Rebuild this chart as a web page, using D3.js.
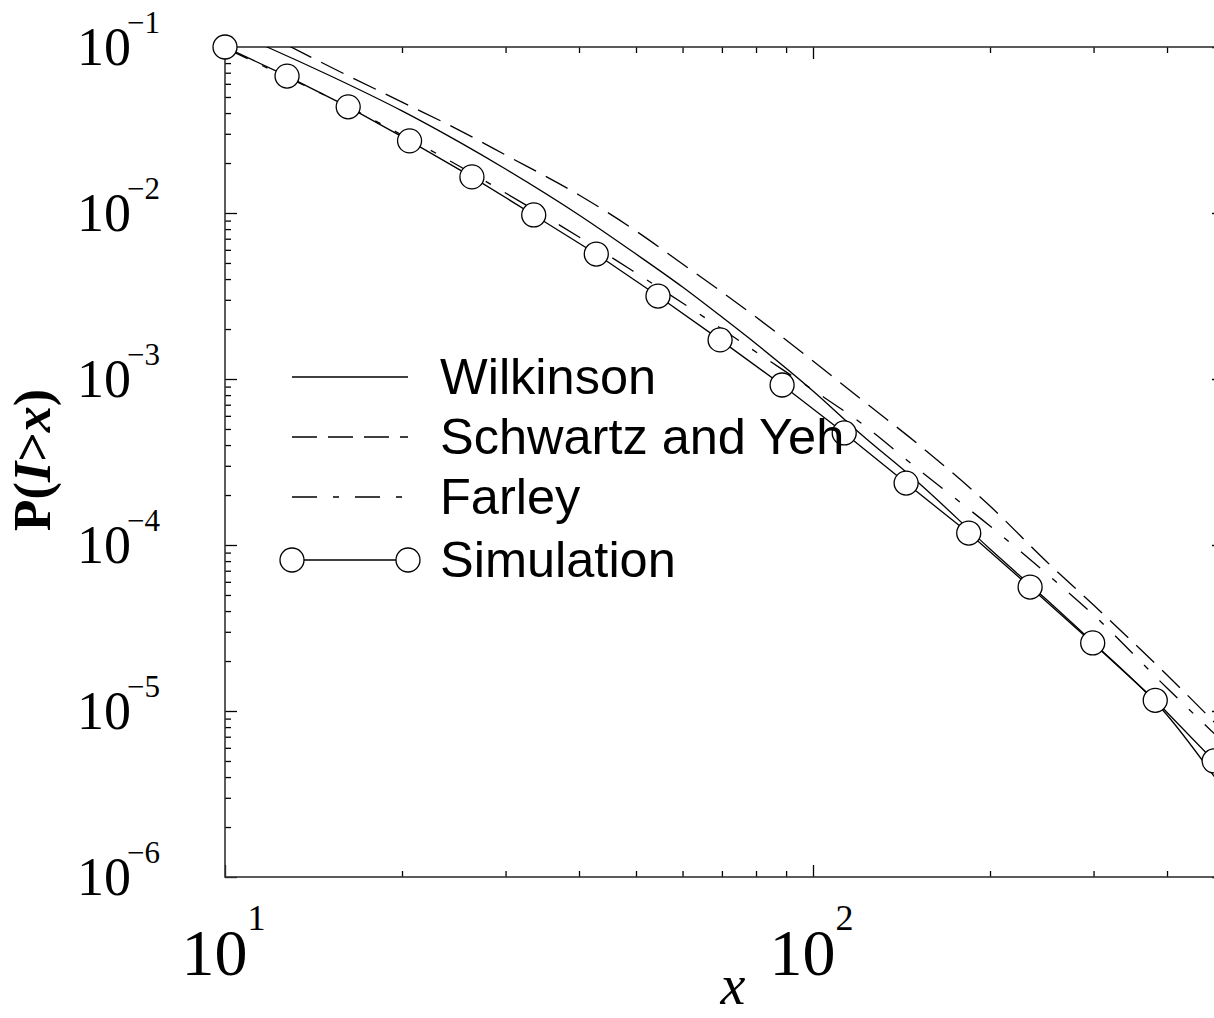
<!DOCTYPE html>
<html>
<head>
<meta charset="utf-8">
<script src="https://cdn.jsdelivr.net/npm/d3@7"></script>
<style>
  body { margin: 0; background: #fff; }
</style>
</head>
<body>
<div id="chart"></div>
<script>
// x grid for the three analytical approximations
const gridX = [10, 12, 15, 20, 25, 30, 40, 50, 60, 70, 80, 100, 120, 150, 200, 250, 300, 400, 500];
const wilkinson = [0.1284, 0.0973, 0.0678, 0.0412, 0.0268, 0.0184, 0.00973, 0.00566, 0.00358, 0.00236,
  0.00163, 0.000847, 0.000473, 0.000243, 9.46e-5, 4.66e-5, 2.57e-5, 9.46e-6, 3.34e-6];
const schwartzYeh = [0.1603, 0.1149, 0.0768, 0.0466, 0.0316, 0.02236, 0.01284, 0.00779, 0.00493, 0.00334,
  0.00236, 0.001284, 0.000768, 0.000412, 0.0001717, 7.9e-5, 4.35e-5, 1.648e-5, 7.47e-6];
const farley = [0.0986, 0.0727, 0.05, 0.0295, 0.0192, 0.0132, 0.00717, 0.00435, 0.00287, 0.002,
  0.001455, 0.000859, 0.000551, 0.000291, 0.00013, 6.69e-5, 3.79e-5, 1.376e-5, 6.42e-6];

// simulation points
const simX = [10, 12.75, 16.2, 20.6, 26.3, 33.5, 42.8, 54.5, 69.5, 88.6, 113, 144, 184, 234, 299, 382, 481];
const simP = [0.1, 0.0668, 0.0436, 0.0272, 0.0165, 0.00973, 0.00566, 0.00316, 0.00172, 0.00092,
  4.73e-4, 2.36e-4, 1.18e-4, 5.58e-5, 2.57e-5, 1.16e-5, 5.0e-6];

const xExponents = [1, 2];
const yExponents = [-1, -2, -3, -4, -5, -6];
const legendNames = ['Wilkinson', 'Schwartz and Yeh', 'Farley', 'Simulation'];

const W = 1214, H = 1018;
const plot = {left: 225, right: 1224, top: 47, bottom: 877};

const x = d3.scaleLog().domain([10, 500]).range([plot.left, plot.right]);
const y = d3.scaleLog().domain([1e-6, 1e-1]).range([plot.bottom, plot.top]);

const svg = d3.select('#chart').append('svg')
  .attr('width', W).attr('height', H);

svg.append('defs').append('clipPath').attr('id', 'clip')
  .append('rect')
  .attr('x', plot.left).attr('y', plot.top)
  .attr('width', plot.right - plot.left).attr('height', plot.bottom - plot.top);

// minor / major tick values
const minorX = [], minorY = [];
for (let k = 1; k <= 2; k++) for (let m = 2; m <= 9; m++) {
  const v = m * Math.pow(10, k);
  if (v < 500) minorX.push(v);
}
for (let k = -6; k <= -2; k++) for (let m = 2; m <= 9; m++) minorY.push(m * Math.pow(10, k));
const majorX = xExponents.map(e => Math.pow(10, e));
const majorY = yExponents.map(e => Math.pow(10, e));

function tickAxis(axis, tx, ty) {
  svg.append('g')
    .attr('transform', `translate(${tx},${ty})`)
    .call(axis.tickFormat(''))
    .call(g => g.select('.domain').remove())
    .call(g => g.selectAll('line').attr('stroke', '#000').attr('stroke-width', 1.3));
}
tickAxis(d3.axisBottom(x).tickValues(minorX).tickSize(-6), 0, plot.bottom);
tickAxis(d3.axisBottom(x).tickValues(majorX).tickSize(-12), 0, plot.bottom);
tickAxis(d3.axisTop(x).tickValues(minorX).tickSize(-6), 0, plot.top);
tickAxis(d3.axisTop(x).tickValues(majorX).tickSize(-12), 0, plot.top);
tickAxis(d3.axisLeft(y).tickValues(minorY).tickSize(-6), plot.left, 0);
tickAxis(d3.axisLeft(y).tickValues(majorY).tickSize(-12), plot.left, 0);
tickAxis(d3.axisRight(y).tickValues(minorY).tickSize(-6), plot.right, 0);
tickAxis(d3.axisRight(y).tickValues(majorY).tickSize(-12), plot.right, 0);

// frame
svg.append('rect')
  .attr('x', plot.left).attr('y', plot.top)
  .attr('width', plot.right - plot.left).attr('height', plot.bottom - plot.top)
  .attr('fill', 'none').attr('stroke', '#333').attr('stroke-width', 1.6);

// tick labels
const serif = '"Liberation Serif", "Times New Roman", serif';
yExponents.forEach(e => {
  const yy = y(Math.pow(10, e));
  svg.append('text').attr('x', 77).attr('y', yy + 18)
    .attr('font-family', serif).attr('font-size', 54).text('10');
  svg.append('text').attr('x', 127).attr('y', yy - 14)
    .attr('font-family', serif).attr('font-size', 31).text('\u2212' + Math.abs(e));
});
xExponents.forEach(e => {
  const xx = x(Math.pow(10, e));
  svg.append('text').attr('x', xx - 43.5).attr('y', 975)
    .attr('font-family', serif).attr('font-size', 66).text('10');
  svg.append('text').attr('x', xx + 22.5).attr('y', 930)
    .attr('font-family', serif).attr('font-size', 36).text(e);
});

// axis titles
svg.append('text')
  .attr('x', 733).attr('y', 1004)
  .attr('text-anchor', 'middle')
  .attr('font-family', serif).attr('font-style', 'italic').attr('font-size', 56)
  .text('x');

const yt = svg.append('text')
  .attr('transform', 'translate(50,460) rotate(-90)')
  .attr('text-anchor', 'middle')
  .attr('font-family', serif).attr('font-weight', 'bold').attr('font-size', 52);
yt.append('tspan').text('P(');
yt.append('tspan').attr('font-style', 'italic').text('I');
yt.append('tspan').text('>');
yt.append('tspan').attr('font-style', 'italic').text('x');
yt.append('tspan').text(')');

// curves
const dashes = ['none', '25,11', '25,16,6,16'];
const line = d3.line()
  .x(d => x(d[0]))
  .y(d => y(d[1]))
  .curve(d3.curveMonotoneX);

const curves = [wilkinson, schwartzYeh, farley];
const dataG = svg.append('g').attr('clip-path', 'url(#clip)');
curves.forEach((vals, i) => {
  dataG.append('path')
    .datum(gridX.map((v, j) => [v, vals[j]]))
    .attr('d', line)
    .attr('fill', 'none')
    .attr('stroke', '#000')
    .attr('stroke-width', 1.3)
    .attr('stroke-dasharray', dashes[i]);
});

// simulation
const simData = simX.map((v, j) => [v, simP[j]]);
dataG.append('path')
  .datum(simData)
  .attr('d', d3.line().x(d => x(d[0])).y(d => y(d[1])))
  .attr('fill', 'none').attr('stroke', '#000').attr('stroke-width', 1.3);

svg.append('g').selectAll('circle')
  .data(simData)
  .enter().append('circle')
  .attr('cx', d => x(d[0]))
  .attr('cy', d => y(d[1]))
  .attr('r', 12)
  .attr('fill', '#fff')
  .attr('stroke', '#000')
  .attr('stroke-width', 1.3);

// legend
const legendY = [377, 437, 497, 560];
const sans = '"Liberation Sans", Arial, sans-serif';
const lg = svg.append('g');
legendNames.forEach((name, i) => {
  const ly = legendY[i];
  lg.append('line')
    .attr('x1', 292).attr('x2', 408).attr('y1', ly).attr('y2', ly)
    .attr('stroke', '#000').attr('stroke-width', 1.3)
    .attr('stroke-dasharray', i < 3 ? dashes[i] : 'none');
  if (i === 3) {
    [292, 408].forEach(cx => {
      lg.append('circle').attr('cx', cx).attr('cy', ly).attr('r', 12)
        .attr('fill', '#fff').attr('stroke', '#000').attr('stroke-width', 1.3);
    });
  }
  lg.append('text')
    .attr('x', 440).attr('y', ly + 17)
    .attr('font-family', sans).attr('font-size', 50.5)
    .text(name);
});
</script>
</body>
</html>
